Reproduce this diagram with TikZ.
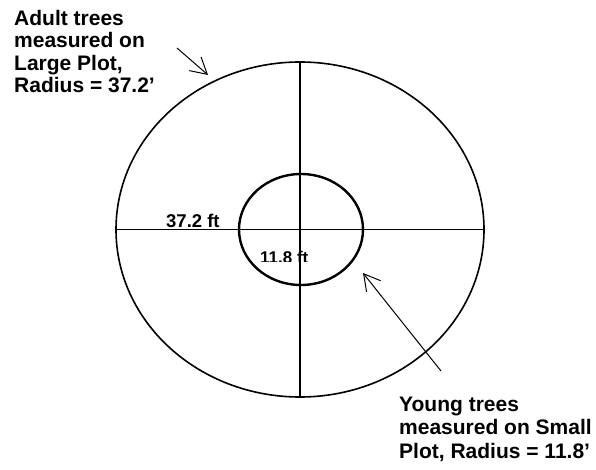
\documentclass[tikz,border=0pt]{standalone}
\usepackage{fontspec}
\setmainfont{Liberation Sans}
\usetikzlibrary{shapes.geometric, arrows.meta, positioning}

\begin{document}
\begin{tikzpicture}[x=1pt, y=-1pt,
    bigplot/.style={draw, ellipse, line width=1.6pt, inner sep=0pt,
                    minimum width=368pt, minimum height=335pt},
    smallplot/.style={draw, ellipse, line width=2.4pt, inner sep=0pt,
                      minimum width=124pt, minimum height=111pt},
    axis/.style={line width=1.6pt},
    pointer/.style={-{Straight Barb[length=16pt, width=18pt]}, line width=1pt},
    caption/.style={align=left, inner sep=0pt, anchor=north west,
                    font=\bfseries\fontsize{21}{#1}\selectfont},
    dist/.style={inner sep=0pt, font=\bfseries\fontsize{#1}{20}\selectfont}
]
    \useasboundingbox (0,0) rectangle (596,470);

    % plots
    \node[bigplot] (large) at (300,229.5) {};
    \node[smallplot] (small) at (301,229.5) {};
    \draw[axis] (large.north) -- (large.south);
    \draw[axis] (large.west) -- (large.east);

    % radius labels
    \node[dist=18.5, anchor=base west] (bigr) at (166,227) {37.2 ft};
    \begin{scope}
        \clip (250,240) rectangle (320,261);
        \node[dist=17, anchor=north west] (smallr) at (260,251) {11.8 ft};
    \end{scope}

    % captions
    \node[caption=22.3] (adult) at (14,10) {
        Adult trees\\
        measured on\\
        Large Plot,\\
        Radius = 37.2’
    };
    \node[caption=23.3] (young) at (399,397) {
        Young trees\\
        measured on Small\\
        Plot, Radius = 11.8’
    };

    \coordinate (adulttail) at (177,48);
    \coordinate (adulttip) at (208,75);
    \coordinate (youngtail) at (441,371);
    \coordinate (youngtip) at (363,273);
    \draw[pointer] (adulttail) -- (adulttip);
    \draw[pointer] (youngtail) -- (youngtip);
\end{tikzpicture}
\end{document}
